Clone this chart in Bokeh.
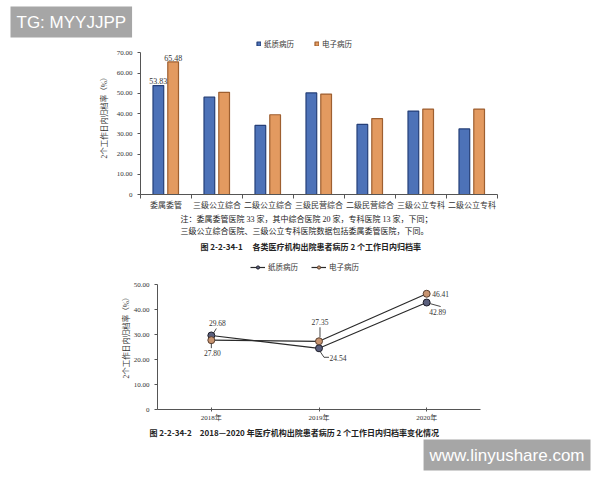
import numpy as np
from bokeh.plotting import figure
from bokeh.models import (Range1d, FactorRange, FixedTicker, CustomJSTickFormatter, Title,
                          Legend, LegendItem, ColumnDataSource)
from bokeh.transform import dodge
from bokeh.layouts import column, row
from bokeh.core.properties import value
from bokeh.embed import file_html
from bokeh.resources import INLINE

# ---------------- data ----------------
categories = ["委属委管", "三级公立综合", "二级公立综合", "三级民营综合", "二级民营综合", "三级公立专科", "二级公立专科"]
paper = [53.83, 48.1, 34.1, 50.2, 34.6, 41.2, 32.4]
electronic = [65.48, 50.5, 39.4, 49.6, 37.5, 42.2, 42.2]
series_names = ["纸质病历", "电子病历"]
bar_ticks = [0, 10, 20, 30, 40, 50, 60, 70]

years = ["2018年", "2019年", "2020年"]
paper_trend = [29.68, 24.54, 42.89]
electronic_trend = [27.80, 27.35, 46.41]
line_ticks = [0, 10, 20, 30, 40, 50]

y_title = "2个工作日内归档率（%）"
note1 = "注：委属委管医院 33 家，其中综合医院 20 家，专科医院 13 家，下同；"
note2 = "三级公立综合医院、三级公立专科医院数据包括委属委管医院，下同。"
caption1 = "图 2-2-34-1\u3000\u00a0各类医疗机构出院患者病历 2 个工作日内归档率"
caption2 = "图 2-2-34-2\u3000" + "2018—2020 年医疗机构出院患者病历 2 个工作日内归档率变化情况"
wm1 = "TG: MYYJJPP"
wm2 = "www.linyushare.com"

# ---------------- styles ----------------
SERIF = "Liberation Serif"
MIX = "'Liberation Serif', 'Noto Sans CJK SC'"
CJK = "Noto Sans CJK SC"
BLUE, BLUE_LINE = "#4d72b8", "#253f78"
ORANGE, ORANGE_LINE = "#e39a60", "#9e5f30"
AXIS = "#555555"
TXT = "#333333"
W = 600
H1, H2 = 253, 227
fmt = CustomJSTickFormatter(code="return tick == 0 ? '0' : tick.toFixed(2);")


def style_axes(p):
    p.xgrid.visible = False
    p.ygrid.visible = False
    p.outline_line_color = None
    p.background_fill_color = "white"
    p.border_fill_color = "white"
    for ax in (p.xaxis[0], p.yaxis[0]):
        ax.axis_line_color = AXIS
        ax.major_tick_line_color = AXIS
        ax.minor_tick_line_color = AXIS
        ax.major_label_text_font = MIX
        ax.major_label_text_font_size = "7px"
        ax.major_label_text_color = TXT
        ax.axis_label_text_font = MIX
        ax.axis_label_text_font_style = "normal"
        ax.axis_label_text_font_size = "7.5px"
        ax.axis_label_text_color = TXT


def text_title(txt, align, offset, standoff, bold=False, size="8px"):
    return Title(text=txt, align=align, offset=offset, standoff=standoff,
                 text_font=CJK if bold else MIX, text_font_style="bold" if bold else "normal",
                 text_font_size=size, text_color="#222222")


def watermark(txt, align, offset):
    return Title(text=txt, align=align, offset=offset, standoff=0, text_color="white",
                 text_font="Liberation Sans", text_font_style="normal", text_font_size="17px",
                 background_fill_color="#a6a6a6", padding=6)


# ================= bar chart =================
p1 = figure(width=W, height=H1, output_backend="svg", toolbar_location=None, title_location=None,
            x_range=Range1d(0, 7), y_range=Range1d(0, 77.56),
            min_border_left=140, min_border_right=103, min_border_top=37, min_border_bottom=59)
style_axes(p1)

xs = np.arange(len(categories)) + 0.5
src1 = ColumnDataSource(dict(x=xs, cat=categories, paper=paper, electronic=electronic))
r_p = p1.vbar(x=dodge("x", -0.15), top="paper", width=0.21, source=src1,
              fill_color=BLUE, line_color=BLUE_LINE, line_width=1.2)
r_e = p1.vbar(x=dodge("x", 0.14), top="electronic", width=0.21, source=src1,
              fill_color=ORANGE, line_color=ORANGE_LINE, line_width=1.2)

lab1 = ColumnDataSource(dict(x=xs[:1], paper=paper[:1], electronic=electronic[:1],
                             tp=[f"{v:.2f}" for v in paper[:1]], te=[f"{v:.2f}" for v in electronic[:1]]))
p1.text(x=dodge("x", -0.15), y="paper", text="tp", source=lab1, text_align="center",
        text_baseline="bottom", y_offset=-2, text_font=value(SERIF), text_font_size="8px", text_color=TXT)
p1.text(x=dodge("x", 0.14), y="electronic", text="te", source=lab1, text_align="center",
        text_baseline="bottom", y_offset=-1, text_font=value(SERIF), text_font_size="8px", text_color=TXT)

ya = p1.yaxis[0]
ya.ticker = FixedTicker(ticks=bar_ticks)
ya.formatter = fmt
ya.bounds = (0, 70)
ya.major_tick_out = 3
ya.major_tick_in = 0
ya.axis_label = y_title
ya.axis_label_standoff = 5

xa = p1.xaxis[0]
xa.ticker = FixedTicker(ticks=list(xs), minor_ticks=list(range(len(categories) + 1)))
xa.formatter = CustomJSTickFormatter(args=dict(labels=categories), code="return labels[Math.floor(tick)];")
xa.bounds = (0, 7)
xa.major_tick_out = 0
xa.major_tick_in = 0
xa.minor_tick_out = 4
xa.minor_tick_in = 0
xa.major_label_text_font_size = "8px"
xa.major_label_standoff = 2

leg1 = Legend(items=[LegendItem(label=series_names[0], renderers=[r_p]),
                     LegendItem(label=series_names[1], renderers=[r_e])],
              orientation="horizontal", location=(116, 145), glyph_width=5, glyph_height=5,
              label_standoff=3, spacing=20, padding=0, margin=0, label_height=8,
              border_line_color=None, background_fill_alpha=0,
              label_text_font=MIX, label_text_font_size="7.5px", label_text_color=TXT)
p1.add_layout(leg1)

p1.add_layout(text_title(note1, "left", 40, 0), "below")
p1.add_layout(text_title(note2, "left", 40, 3), "below")
p1.add_layout(text_title(caption1, "left", 60, 2, bold=True), "below")
p1.add_layout(watermark(wm1, "left", -130), "above")

# ================= line chart =================
p2 = figure(width=W, height=H2, output_backend="svg", toolbar_location=None, title_location=None,
            x_range=FactorRange(*years), y_range=Range1d(0, 58.94),
            min_border_left=157, min_border_right=120, min_border_top=9, min_border_bottom=71)
style_axes(p2)

src2 = ColumnDataSource(dict(year=years, paper=paper_trend, electronic=electronic_trend,
                             tp=[f"{v:.2f}" for v in paper_trend],
                             te=[f"{v:.2f}" for v in electronic_trend]))
lp = p2.line(x="year", y="paper", source=src2, line_color="#2a2a2a", line_width=1.2)
le = p2.line(x="year", y="electronic", source=src2, line_color="#2a2a2a", line_width=1.2)
sp = p2.scatter(x="year", y="paper", source=src2, size=7, fill_color="#5a5f7c", line_color="#1e1e2a", line_width=1)
se = p2.scatter(x="year", y="electronic", source=src2, size=7, fill_color="#c89470", line_color="#5a4030", line_width=1)

# label offsets (px) for each point
src2.data.update(pdx=[6, 19, 11], pdy=[-12, 10, 9], edx=[1, 1, 14], edy=[13, -19, 0])
p2.text(x="year", y="paper", text="tp", source=src2, x_offset="pdx", y_offset="pdy", text_align="center",
        text_baseline="middle", text_font=value(SERIF), text_font_size="7.5px", text_color=TXT)
p2.text(x="year", y="electronic", text="te", source=src2, x_offset="edx", y_offset="edy", text_align="center",
        text_baseline="middle", text_font=value(SERIF), text_font_size="7.5px", text_color=TXT)

# leader lines: offsets (px) from the point, converted with the chart's scales
PX_X = 107.67
PX_Y = 2.494
lead = [  # (series, index, dx0, dy0, dx1, dy1)
    ("p", 0, 2, -2, 5, -7),
    ("e", 0, 0, 3, 0, 8),
    ("p", 1, 1, 3, 5, 9),
    ("p", 1, 5, 9, 10, 9),
    ("e", 1, 1, -4, 1, -14),
    ("p", 2, 3, 1, 14, 4),
]
x0, y0, x1, y1 = [], [], [], []
for s, i, a, b, c, d in lead:
    v = paper_trend[i] if s == "p" else electronic_trend[i]
    x0.append(i + 0.5 + a / PX_X); y0.append(v - b / PX_Y)
    x1.append(i + 0.5 + c / PX_X); y1.append(v - d / PX_Y)
p2.segment(x0=x0, y0=y0, x1=x1, y1=y1, line_color="#333333", line_width=0.9)

ya2 = p2.yaxis[0]
ya2.ticker = FixedTicker(ticks=line_ticks)
ya2.formatter = fmt
ya2.bounds = (0, 50)
ya2.major_tick_out = 3
ya2.major_tick_in = 0
ya2.axis_label = y_title
ya2.axis_label_standoff = 0

xa2 = p2.xaxis[0]
xa2.major_tick_out = 2
xa2.major_tick_in = 2
xa2.major_label_standoff = 2

leg2 = Legend(items=[LegendItem(label=series_names[0], renderers=[lp, sp]),
                     LegendItem(label=series_names[1], renderers=[le, se])],
              orientation="horizontal", location=(93, 137), glyph_width=15, glyph_height=8,
              label_standoff=3, spacing=13, padding=0, margin=0, label_height=8,
              border_line_color=None, background_fill_alpha=0,
              label_text_font=MIX, label_text_font_size="7.5px", label_text_color=TXT)
p2.add_layout(leg2)

p2.add_layout(text_title(caption2, "left", -8, 0, bold=True), "below")
p2.add_layout(watermark(wm2, "right", -110), "below")

layout = column(row(p1), row(p2), spacing=0)
open("out.html", "w").write(file_html(layout, INLINE))
